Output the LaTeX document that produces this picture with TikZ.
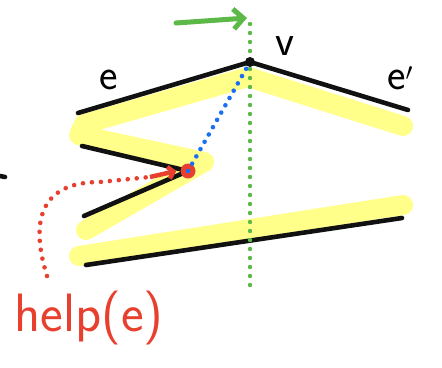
\documentclass[tikz,border=0pt]{standalone}
\usepackage{tikz}
\usetikzlibrary{arrows.meta,backgrounds}
\definecolor{cInk}{HTML}{111111}
\definecolor{cHilite}{HTML}{FFFF8A}
\definecolor{cSweep}{HTML}{5CB947}
\definecolor{cHelp}{HTML}{E8402E}
\definecolor{cReach}{HTML}{1C6FF2}

\begin{document}
\begin{tikzpicture}[
  x=1pt, y=-1pt,
  font=\sffamily\fontsize{44}{50}\selectfont,
  edgeline/.style={draw=cInk, line width=4.6pt, line cap=round},
  hilite/.style={draw=cHilite, line width=20pt, line cap=round, line join=round},
  sweepline/.style={draw=cSweep, line width=4.4pt, line cap=round, dash pattern=on 0pt off 9pt},
  sweeparrow/.style={draw=cSweep, line width=5pt, line cap=round, -{Straight Barb[length=10pt,width=20pt,line width=5pt]}},
  reachline/.style={draw=cReach, line width=4.6pt, line cap=round, dash pattern=on 0pt off 8.4pt},
  helpline/.style={draw=cHelp, line width=4.6pt, line cap=round, dash pattern=on 0pt off 9pt},
  helptip/.style={-{Straight Barb[length=5pt,width=12pt,line width=4.5pt]}},
]
\useasboundingbox (0,0) rectangle (442,367);

% polygon corners
\coordinate (v)    at (250,62);
\coordinate (eL)   at (78,113);
\coordinate (eR)   at (408,110);
\coordinate (zTop) at (82,146);
\coordinate (zTip) at (188,171);
\coordinate (zBot) at (84,216);
\coordinate (bL)   at (86,265);
\coordinate (bR)   at (402,218);

% sweep line
\coordinate (sweepTop) at (250,24);
\coordinate (sweepBot) at (250,292);
\coordinate (arrTail)  at (176,23);
\coordinate (arrHead)  at (247,18);

% highlighted chain
\begin{scope}[on background layer]
  \draw[hilite] (403,126) -- (248,77) -- (84,124) -- (79,135) -- (204,162)
    -- (86,230);
  \draw[hilite] (79,256) -- (403,205);
\end{scope}

\draw[edgeline] (eL) -- (v) -- (eR);
\draw[edgeline] (zTop) -- (zTip) -- (zBot);
\draw[edgeline] (bL) -- (bR);
\draw[edgeline] (0,176) -- (5,177);

\draw[sweepline] (sweepTop) -- (sweepBot);
\draw[sweeparrow] (arrTail) -- (arrHead);

\node[circle, fill=cInk, inner sep=0pt, minimum size=10pt] (vdot) at (v) {};
\node[circle, fill=cHelp, inner sep=0pt, minimum size=15pt] (helpdot) at (zTip) {};

\draw[reachline] (helpdot.center) -- (vdot.center);

% labels
\node (labe)  at (109,80) {e};
\node (labv)  at (285,46) {v};
\node (labe2) at (400,78) {e$'$};
\node[text=cHelp, font=\sffamily\fontsize{54}{60}\selectfont] (help) at (89,318) {help(e)};

\coordinate (helpStart) at (47,276);
\draw[helpline] (helpStart) .. controls (28,215) and (45,182) .. (100,182)
  -- (150,177);
\draw[draw=cHelp, line width=4.5pt, helptip] (150,177) -- ([xshift=-4pt]helpdot.west);

\end{tikzpicture}
\end{document}
